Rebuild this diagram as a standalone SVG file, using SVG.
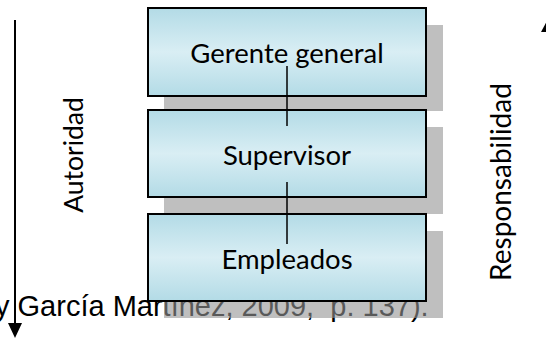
<svg xmlns="http://www.w3.org/2000/svg" width="546" height="345" viewBox="0 0 546 345">
<defs>
<linearGradient id="boxfill" x1="0" y1="0" x2="0" y2="1">
<stop offset="0" stop-color="#b3dbe6"/>
<stop offset="0.5" stop-color="#d9eef4"/>
<stop offset="1" stop-color="#b3dbe6"/>
</linearGradient>
<style>
.box{fill:url(#boxfill);stroke:#000;stroke-width:2}
.shadow{fill:#959595;fill-opacity:0.6}
.lbl{font-family:Lato,"Open Sans",sans-serif;font-size:27.5px;fill:#000;text-anchor:middle}
.side{font-family:Lato,"Open Sans",sans-serif;font-size:26.5px;fill:#000;text-anchor:middle}
.cite{font-family:"Liberation Sans",Arial,sans-serif;font-size:29px;fill:#000;white-space:pre}
.conn{stroke:#000;stroke-width:1.5;fill:none}
</style>
</defs>
<rect width="546" height="345" fill="#fff"/>
<text class="cite" x="-5" y="316" xml:space="preserve">y García Martínez, 2009,  p. 137).</text>
<g id="shadows">
<rect class="shadow" x="164" y="25" width="279" height="86"/>
<rect class="shadow" x="164" y="127" width="279" height="87"/>
<rect class="shadow" x="164" y="231" width="279" height="87"/>
</g>
<g id="gerente">
<rect class="box" x="148" y="8" width="278" height="88"/>
<text class="lbl" x="287" y="63">Gerente general</text>
</g>
<g id="supervisor">
<rect class="box" x="148" y="110" width="278" height="87"/>
<text class="lbl" x="287" y="165">Supervisor</text>
</g>
<g id="empleados">
<rect class="box" x="148" y="214" width="278" height="87"/>
<text class="lbl" x="287" y="269">Empleados</text>
</g>
<g id="connectors">
<line class="conn" x1="287" y1="66" x2="287" y2="126"/>
<line class="conn" x1="287" y1="182" x2="287" y2="244"/>
<line x1="15" y1="20" x2="15" y2="323" stroke="#000" stroke-width="2"/>
<path d="M8,323 L22,323 L15,338 Z" fill="#000"/>
<path d="M541,32 L547,21 L553,32 Z" fill="#000"/>
</g>
<g id="autoridad">
<text class="side" transform="translate(83,155) rotate(-90)">Autoridad</text>
</g>
<g id="responsabilidad">
<text class="side" style="font-size:28px" transform="translate(511,182) rotate(-90)">Responsabilidad</text>
</g>
</svg>
